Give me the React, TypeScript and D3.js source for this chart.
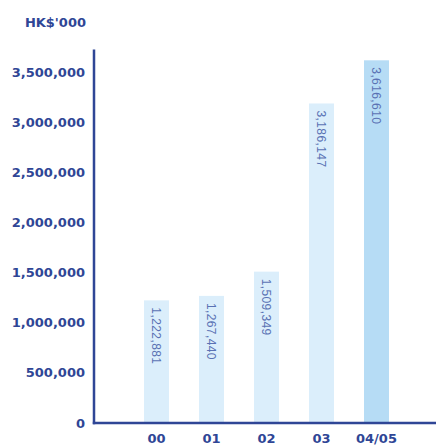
import React from "react";
import * as d3 from "d3";

const categories = ["00", "01", "02", "03", "04/05"];
const values = [1222881, 1267440, 1509349, 3186147, 3616610];
const valueLabels = ["1,222,881", "1,267,440", "1,509,349", "3,186,147", "3,616,610"];
const yTicks = [0, 500000, 1000000, 1500000, 2000000, 2500000, 3000000, 3500000];

const W = 436;
const H = 446;
const axisColor = "#2f4696";
const font = "'DejaVu Sans', Verdana, sans-serif";

export default function App() {
  const y = d3.scaleLinear().domain([0, 3500000]).range([423, 72]);
  const x = d3
    .scaleBand<string>()
    .domain(categories)
    .range([129, 404])
    .paddingInner(30 / 55)
    .paddingOuter(15 / 55);
  const fmt = d3.format(",");

  return (
    <svg
      width={W}
      height={H}
      style={{ position: "absolute", left: 0, top: 0 }}
      viewBox={`0 0 ${W} ${H}`}
    >
      <rect width={W} height={H} fill="#fff" />
      <text
        x={86}
        y={22}
        dy="0.35em"
        textAnchor="end"
        fontFamily={font}
        fontWeight="bold"
        fontSize={13}
        fill={axisColor}
      >
        HK$'000
      </text>
      {categories.map((c, i) => {
        const bx = x(c)!;
        const by = y(values[i]);
        const bw = x.bandwidth();
        return (
          <g key={c}>
            <rect
              x={bx}
              y={by}
              width={bw}
              height={y(0) - by}
              fill={i === categories.length - 1 ? "#b6dcf5" : "#dbeefb"}
            />
            <text
              transform={`translate(${bx + bw / 2},${by + 7}) rotate(90)`}
              dy="0.35em"
              fontFamily="'Liberation Sans', Arial, sans-serif"
              fontSize={12}
              letterSpacing={0.4}
              fill="#5a72b4"
            >
              {valueLabels[i]}
            </text>
            <text
              x={bx + bw / 2}
              y={438}
              dy="0.35em"
              textAnchor="middle"
              fontFamily={font}
              fontWeight="bold"
              fontSize={13}
              fill={axisColor}
            >
              {c}
            </text>
          </g>
        );
      })}
      {yTicks.map((t) => (
        <text
          key={t}
          x={85}
          y={y(t)}
          dy="0.35em"
          textAnchor="end"
          fontFamily={font}
          fontWeight="bold"
          fontSize={13}
          fill={axisColor}
        >
          {fmt(t)}
        </text>
      ))}
      <line x1={94} x2={94} y1={49.5} y2={424.2} stroke={axisColor} strokeWidth={2.5} />
      <line x1={92.8} x2={436} y1={423} y2={423} stroke={axisColor} strokeWidth={2.5} />
    </svg>
  );
}
